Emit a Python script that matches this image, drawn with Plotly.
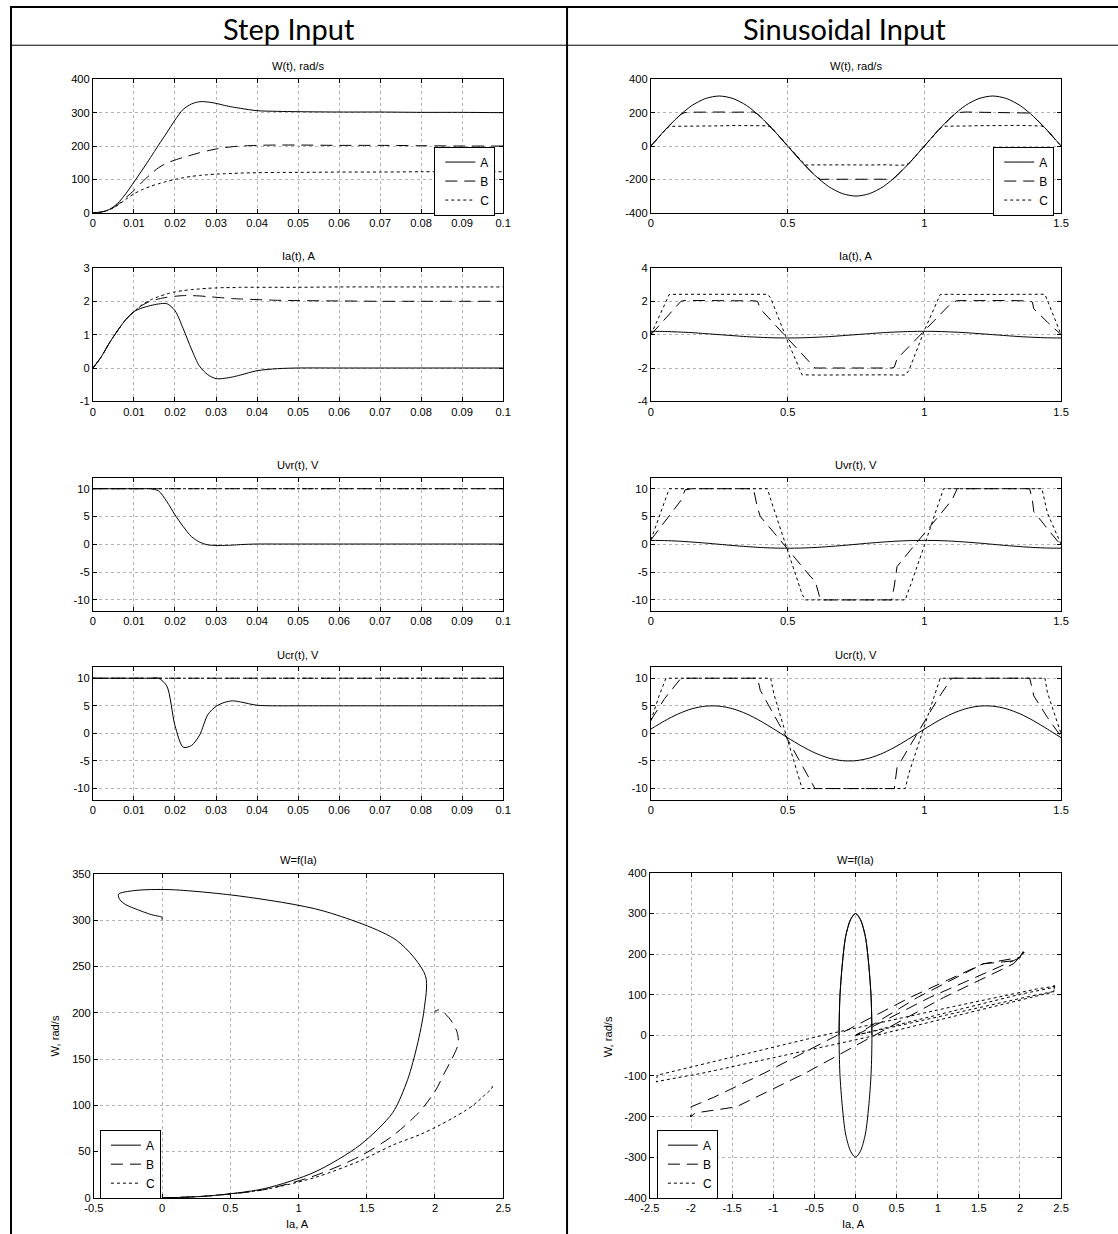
import plotly.graph_objects as go

# The page shows the figure inside the default 8px body margin; the captured view is
# (figure + margins) and is rescaled to 1118x1234, so positions below are given in
# final-image pixels and converted to figure pixels through that mapping.
IMG_W, IMG_H = 1118, 1234
PAD = 8
VIEW_W, VIEW_H = IMG_W + 2 * PAD, IMG_H + 2 * PAD
SX, SY = IMG_W / VIEW_W, IMG_H / VIEW_H
W, H = VIEW_W - PAD, VIEW_H - PAD

# ---------------- step input (t in seconds) ----------------
t_step = [0, 0.002, 0.004, 0.006, 0.008, 0.010, 0.012, 0.014, 0.016, 0.018, 0.020, 0.022, 0.024,
          0.026, 0.028, 0.030, 0.032, 0.034, 0.036, 0.040, 0.045, 0.050, 0.060, 0.070, 0.080, 0.090, 0.100]

w_step_a = [0, 2, 10, 28, 57, 92, 128, 165, 203, 240, 278, 310, 326, 333, 332, 328, 322, 317, 313,
            306, 304, 303, 302, 302, 301, 301, 300]
w_step_b = [0, 2, 9, 24, 45, 67, 92, 115, 135, 149, 158, 166, 173, 180, 186, 191, 195, 198, 200,
            202, 203, 203, 202, 202, 201, 200, 200]
w_step_c = [0, 2, 9, 22, 40, 57, 69, 79, 87, 94, 100, 105, 109, 112, 114, 116, 117, 118, 119,
            120, 121, 121, 122, 122, 123, 123, 123]

ia_step_a = [0, 0.33, 0.75, 1.12, 1.45, 1.69, 1.80, 1.87, 1.92, 1.93, 1.72, 1.18, 0.57, 0.05, -0.20,
             -0.32, -0.31, -0.27, -0.21, -0.08, -0.02, 0, 0, 0, 0, 0, 0]
ia_step_b = [0, 0.33, 0.75, 1.12, 1.45, 1.69, 1.88, 2.00, 2.07, 2.12, 2.15, 2.17, 2.17, 2.16, 2.14,
             2.12, 2.10, 2.08, 2.07, 2.05, 2.03, 2.02, 2.01, 2.00, 2.00, 2.00, 2.00]
ia_step_c = [0, 0.33, 0.75, 1.12, 1.45, 1.69, 1.90, 2.04, 2.14, 2.22, 2.28, 2.32, 2.35, 2.37, 2.39,
             2.40, 2.41, 2.41, 2.42, 2.42, 2.42, 2.42, 2.43, 2.43, 2.43, 2.43, 2.43]

uvr_step_a = [10, 10, 10, 10, 10, 10, 10, 10, 9.6, 7.7, 5.3, 3.2, 1.4, 0.4, -0.1, -0.2, -0.2, -0.15,
              -0.05, 0.05, 0.05, 0.05, 0.05, 0.05, 0.05, 0.05, 0.05]
uvr_step_b = [10, 10, 10, 10, 10, 10, 10, 10, 10, 10, 10, 10, 10, 10, 10, 10, 10, 10, 10, 10, 10,
              10, 10, 10, 10, 10, 10]
uvr_step_c = [10, 10, 10, 10, 10, 10, 10, 10, 10, 10, 10, 10, 10, 10, 10, 10, 10, 10, 10, 10, 10,
              10, 10, 10, 10, 10, 10]

ucr_step_a = [10, 10, 10, 10, 10, 10, 10, 10, 10, 8.6, 1.4, -2.5, -2.2, -0.3, 3.4, 4.9, 5.6, 5.9,
              5.7, 5.1, 5.0, 5.0, 5.0, 5.0, 5.0, 5.0, 5.0]
ucr_step_b = [10, 10, 10, 10, 10, 10, 10, 10, 10, 10, 10, 10, 10, 10, 10, 10, 10, 10, 10, 10, 10,
              10, 10, 10, 10, 10, 10]
ucr_step_c = [10, 10, 10, 10, 10, 10, 10, 10, 10, 10, 10, 10, 10, 10, 10, 10, 10, 10, 10, 10, 10,
              10, 10, 10, 10, 10, 10]

# ---------------- sinusoidal input (t in seconds) ----------------
t_sin_a = [0, 0.05, 0.1, 0.15, 0.2, 0.25, 0.3, 0.35, 0.4, 0.45, 0.5, 0.55, 0.6, 0.65, 0.7, 0.75,
           0.8, 0.85, 0.9, 0.95, 1.0, 1.05, 1.1, 1.15, 1.2, 1.25, 1.3, 1.35, 1.4, 1.45, 1.5]
w_sin_a = [0, 93, 176, 243, 285, 300, 285, 243, 176, 93, 0, -93, -176, -243, -285, -300, -285,
           -243, -176, -93, 0, 93, 176, 243, 285, 300, 285, 243, 176, 93, 0]
ia_sin_a = [0.2, 0.19, 0.16, 0.12, 0.06, 0, -0.06, -0.12, -0.16, -0.19, -0.2, -0.19, -0.16, -0.12,
            -0.06, 0, 0.06, 0.12, 0.16, 0.19, 0.2, 0.19, 0.16, 0.12, 0.06, 0, -0.06, -0.12, -0.16,
            -0.19, -0.2]
uvr_sin_a = [0.7, 0.67, 0.57, 0.41, 0.22, 0, -0.22, -0.41, -0.57, -0.67, -0.7, -0.67, -0.57, -0.41,
             -0.22, 0, 0.22, 0.41, 0.57, 0.67, 0.7, 0.67, 0.57, 0.41, 0.22, 0, -0.22, -0.41, -0.57,
             -0.67, -0.7]
ucr_sin_a = [0.78, 2.27, 3.54, 4.46, 4.94, 4.94, 4.46, 3.54, 2.27, 0.78, -0.78, -2.27, -3.54, -4.46,
             -4.94, -4.94, -4.46, -3.54, -2.27, -0.78, 0.78, 2.27, 3.54, 4.46, 4.94, 4.94, 4.46,
             3.54, 2.27, 0.78, -0.78]

t_sin_b = [0, 0.05, 0.11, 0.125, 0.15, 0.2, 0.25, 0.3, 0.35, 0.375, 0.39, 0.40, 0.45, 0.5, 0.55,
           0.585, 0.6, 0.62, 0.65, 0.7, 0.75, 0.8, 0.85, 0.88, 0.89, 0.90, 0.95, 1.0, 1.05, 1.1,
           1.12, 1.15, 1.2, 1.25, 1.3, 1.35, 1.385, 1.395, 1.40, 1.45, 1.5]
w_sin_b = [0, 93, 191, 201, 203, 205, 204, 203, 205, 204, 192, 176, 93, 0, -93, -153, -176, -200,
           -199, -198, -200, -198, -199, -200, -191, -176, -93, 0, 93, 176, 200, 204, 203, 205,
           204, 203, 198, 184, 176, 93, 0]
ia_sin_b = [0, 0.9, 2.0, 2.05, 2.04, 2.03, 2.04, 2.03, 2.04, 2.03, 2.0, 1.55, 0.66, -0.23, -1.11,
            -1.73, -2.0, -2.0, -2.0, -2.01, -2.0, -2.0, -2.01, -2.0, -1.95, -1.45, -0.61, 0.23,
            1.07, 1.92, 2.04, 2.05, 2.04, 2.04, 2.05, 2.04, 2.02, 1.95, 1.55, 0.75, 0]
uvr_sin_b = [0.8, 4.0, 7.9, 9.8, 10, 10, 10, 10, 10, 10, 6.5, 5.0, 2.1, -0.8, -3.8, -5.9, -6.5,
             -10, -10, -10, -10, -10, -10, -10, -7.5, -4.0, -1.0, 2.0, 4.9, 7.9, 10, 10, 10, 10,
             10, 10, 10, 8.0, 5.9, 2.8, -0.2]
ucr_sin_b = [2.4, 6.3, 10, 10, 10, 10, 10, 10, 10, 10, 10, 7.8, 3.3, -1.2, -5.7, -8.9, -10, -10,
             -10, -10, -10, -10, -10, -10, -10, -6.2, -2.1, 2.0, 6.3, 10, 10, 10, 10, 10, 10, 10,
             10, 8.0, 6.8, 2.9, -0.6]

t_sin_c = [0, 0.03, 0.055, 0.067, 0.1, 0.15, 0.2, 0.25, 0.3, 0.35, 0.4, 0.426, 0.438, 0.45, 0.462,
           0.5, 0.553, 0.565, 0.6, 0.65, 0.7, 0.75, 0.8, 0.85, 0.9, 0.93, 0.943, 0.95, 1.0, 1.058,
           1.07, 1.1, 1.15, 1.2, 1.25, 1.3, 1.35, 1.4, 1.43, 1.441, 1.45, 1.5]
w_sin_c = [0, 56, 101, 118, 118, 120, 122, 121, 123, 124, 122, 121, 114, 93, 71, 0, -98, -114,
           -113, -112, -115, -113, -114, -112, -115, -114, -104, -93, 0, 107, 119, 121, 120, 122,
           121, 123, 124, 122, 120, 108, 93, 0]
ia_sin_c = [0, 1.1, 2.0, 2.41, 2.42, 2.42, 2.41, 2.42, 2.42, 2.41, 2.42, 2.42, 2.2, 1.70, 1.19,
            -0.40, -2.41, -2.42, -2.42, -2.42, -2.41, -2.42, -2.42, -2.41, -2.42, -2.42, -2.16,
            -1.86, 0.25, 2.41, 2.42, 2.42, 2.41, 2.42, 2.42, 2.41, 2.42, 2.42, 2.42, 2.41, 2.05, 0]
uvr_sin_c = [0.8, 4.9, 8.3, 10, 10, 10, 10, 10, 10, 10, 10, 10, 8.1, 6.3, 4.4, -1.2, -9.0, -10,
             -10, -10, -10, -10, -10, -10, -10, -10, -8.2, -7.3, -0.2, 8.3, 10, 10, 10, 10, 10, 10,
             10, 10, 10, 7.6, 5.6, 0]
ucr_sin_c = [2.3, 6.8, 10, 10, 10, 10, 10, 10, 10, 10, 10, 10, 10, 7.1, 5.1, -1.2, -10, -10, -10,
             -10, -10, -10, -10, -10, -10, -10, -7.3, -6.2, 1.3, 10, 10, 10, 10, 10, 10, 10, 10,
             10, 10, 10, 7.4, -0.1]

series_names = ["A", "B", "C"]
row_titles = ["W(t), rad/s", "Ia(t), A", "Uvr(t), V", "Ucr(t), V", "W=f(Ia)"]
col_headers = ["Step Input", "Sinusoidal Input"]

# tick labels
step_t_ticks = [0, 0.01, 0.02, 0.03, 0.04, 0.05, 0.06, 0.07, 0.08, 0.09, 0.1]
step_t_text = ["0", "0.01", "0.02", "0.03", "0.04", "0.05", "0.06", "0.07", "0.08", "0.09", "0.1"]
sin_t_ticks = [0, 0.5, 1, 1.5]
sin_t_text = ["0", "0.5", "1", "1.5"]

# ---------------- layout helpers ----------------
FONT = "Liberation Sans, Arial, sans-serif"
STYLE = {"A": "solid", "B": "12px,7px", "C": "3px,3px"}
FS = 11 / SX          # small text size before rescaling


def fx(p):
    """image pixel column -> paper fraction"""
    return (p / SX - PAD) / W


def fy(p):
    """image pixel row -> paper fraction"""
    return 1 - (p / SY - PAD) / H


# image-pixel boxes of the ten panels: (left, right, top, bottom)
boxes = [
    (91, 502, 81, 214), (650, 1061, 81, 214),
    (91, 502, 269, 402), (650, 1061, 269, 402),
    (91, 502, 478, 611), (650, 1061, 478, 611),
    (91, 502, 667, 799), (650, 1061, 667, 799),
    (92, 502, 873, 1196), (649, 1061, 872, 1196),
]
title_y = [68, 257, 465, 655, 859]

# x ranges/ticks and y ranges/ticks for each panel
panels = [
    ([0, 0.1], step_t_ticks, step_t_text, [0, 400], [0, 100, 200, 300, 400]),
    ([0, 1.5], sin_t_ticks, sin_t_text, [-400, 400], [-400, -200, 0, 200, 400]),
    ([0, 0.1], step_t_ticks, step_t_text, [-1, 3], [-1, 0, 1, 2, 3]),
    ([0, 1.5], sin_t_ticks, sin_t_text, [-4, 4], [-4, -2, 0, 2, 4]),
    ([0, 0.1], step_t_ticks, step_t_text, [-12, 12], [-10, -5, 0, 5, 10]),
    ([0, 1.5], sin_t_ticks, sin_t_text, [-12, 12], [-10, -5, 0, 5, 10]),
    ([0, 0.1], step_t_ticks, step_t_text, [-12, 12], [-10, -5, 0, 5, 10]),
    ([0, 1.5], sin_t_ticks, sin_t_text, [-12, 12], [-10, -5, 0, 5, 10]),
    ([-0.5, 2.5], [-0.5, 0, 0.5, 1, 1.5, 2, 2.5], ["-0.5", "0", "0.5", "1", "1.5", "2", "2.5"],
     [0, 350], [0, 50, 100, 150, 200, 250, 300, 350]),
    ([-2.5, 2.5], [-2.5, -2, -1.5, -1, -0.5, 0, 0.5, 1, 1.5, 2, 2.5],
     ["-2.5", "-2", "-1.5", "-1", "-0.5", "0", "0.5", "1", "1.5", "2", "2.5"],
     [-400, 400], [-400, -300, -200, -100, 0, 100, 200, 300, 400]),
]

step_data = {
    "A": (w_step_a, ia_step_a, uvr_step_a, ucr_step_a),
    "B": (w_step_b, ia_step_b, uvr_step_b, ucr_step_b),
    "C": (w_step_c, ia_step_c, uvr_step_c, ucr_step_c),
}
sin_data = {
    "A": (t_sin_a, w_sin_a, ia_sin_a, uvr_sin_a, ucr_sin_a),
    "B": (t_sin_b, w_sin_b, ia_sin_b, uvr_sin_b, ucr_sin_b),
    "C": (t_sin_c, w_sin_c, ia_sin_c, uvr_sin_c, ucr_sin_c),
}

# panels that carry a legend -> legend id
legend_of = {0: "legend", 1: "legend2", 8: "legend3", 9: "legend4"}

fig = go.Figure()


def add_line(k, x, y, name, shape):
    sfx = "" if k == 0 else str(k + 1)
    fig.add_trace(go.Scatter(
        x=x, y=y, mode="lines", name=name,
        xaxis="x" + sfx, yaxis="y" + sfx,
        line=dict(color="black", width=1, dash=STYLE[name], shape=shape, smoothing=0.8),
        showlegend=k in legend_of, legend=legend_of.get(k, "legend"),
        hoverinfo="skip",
    ))


for name in series_names:
    w_s, ia_s, uvr_s, ucr_s = step_data[name]
    t_s, w_n, ia_n, uvr_n, ucr_n = sin_data[name]
    sin_shape = "spline" if name == "A" else "linear"
    for row, (ys, yn) in enumerate([(w_s, w_n), (ia_s, ia_n), (uvr_s, uvr_n), (ucr_s, ucr_n)]):
        add_line(2 * row, t_step, ys, name, "spline")
        add_line(2 * row + 1, t_s, yn, name, sin_shape)
    add_line(8, ia_s, w_s, name, "spline")
    add_line(9, ia_n, w_n, name, sin_shape)

layout = dict(
    width=W, height=H, autosize=False,
    margin=dict(l=0, r=0, t=0, b=0),
    paper_bgcolor="white", plot_bgcolor="white",
    showlegend=True,
    font=dict(family=FONT, size=FS, color="black"),
)

axis_common = dict(
    showline=True, linecolor="black", linewidth=1, mirror="ticks",
    ticks="inside", ticklen=4, tickcolor="black", tickwidth=1,
    showgrid=True, gridcolor="#b4b4b4", gridwidth=1, griddash="dot",
    zeroline=False, tickfont=dict(family=FONT, size=FS, color="black"),
    fixedrange=True,
)

for k, (box, spec) in enumerate(zip(boxes, panels)):
    l, r, t, b = box
    xr, xt, xtt, yr, yt = spec
    sfx = "" if k == 0 else str(k + 1)
    layout["xaxis" + sfx] = dict(axis_common, domain=[fx(l), fx(r)], range=xr,
                                 tickvals=xt, ticktext=xtt, anchor="y" + sfx)
    layout["yaxis" + sfx] = dict(axis_common, domain=[fy(b), fy(t)], range=yr,
                                 tickvals=yt, ticktext=[str(v) for v in yt], anchor="x" + sfx)

# legends (top-left corner of each box, in image pixels)
legend_boxes = {"legend": (433, 148), "legend2": (993, 148), "legend3": (98, 1128), "legend4": (656, 1128)}
for lid, (lx, ly) in legend_boxes.items():
    layout[lid] = dict(
        x=fx(lx), y=fy(ly), xanchor="left", yanchor="top",
        bgcolor="white", bordercolor="black", borderwidth=1,
        font=dict(family=FONT, size=12, color="black"),
        tracegroupgap=0, itemclick=False, itemdoubleclick=False,
        indentation=5,
    )

annotations = []
for k, box in enumerate(boxes):
    l, r, t, b = box
    annotations.append(dict(
        text=row_titles[k // 2], x=fx((l + r) / 2), y=fy(title_y[k // 2]),
        xref="paper", yref="paper", xanchor="center", yanchor="middle",
        showarrow=False, font=dict(family=FONT, size=FS, color="black"),
    ))

# axis labels of the W=f(Ia) panels
for cx, lx in [(53, 296), (607, 853)]:
    annotations.append(dict(text="W, rad/s", x=fx(cx), y=fy(1035), xref="paper", yref="paper",
                            textangle=-90, showarrow=False, xanchor="center", yanchor="middle",
                            font=dict(family=FONT, size=FS, color="black")))
    annotations.append(dict(text="Ia, A", x=fx(lx), y=fy(1222), xref="paper", yref="paper",
                            showarrow=False, xanchor="center", yanchor="middle",
                            font=dict(family=FONT, size=FS, color="black")))

# column headers of the table
for txt, cx in zip(col_headers, [287, 844]):
    annotations.append(dict(text=txt, x=fx(cx), y=fy(30), xref="paper", yref="paper",
                            showarrow=False, xanchor="center", yanchor="middle",
                            font=dict(family="Lato, Open Sans, sans-serif", size=29, color="black")))
layout["annotations"] = annotations

# table rules
shapes = []


def rule(x0, y0, x1, y1, w):
    shapes.append(dict(type="line", xref="paper", yref="paper",
                       x0=fx(x0), y0=fy(y0), x1=fx(x1), y1=fy(y1),
                       line=dict(color="black", width=w)))


rule(8.9, 8.9, 1118, 8.9, 2)
rule(8.9, 8, 8.9, 1234, 2)
rule(566, 8, 566, 1234, 2)
rule(8.9, 47, 1118, 47, 1)
layout["shapes"] = shapes

fig.update_layout(**layout)
fig.write_html("out.html")
